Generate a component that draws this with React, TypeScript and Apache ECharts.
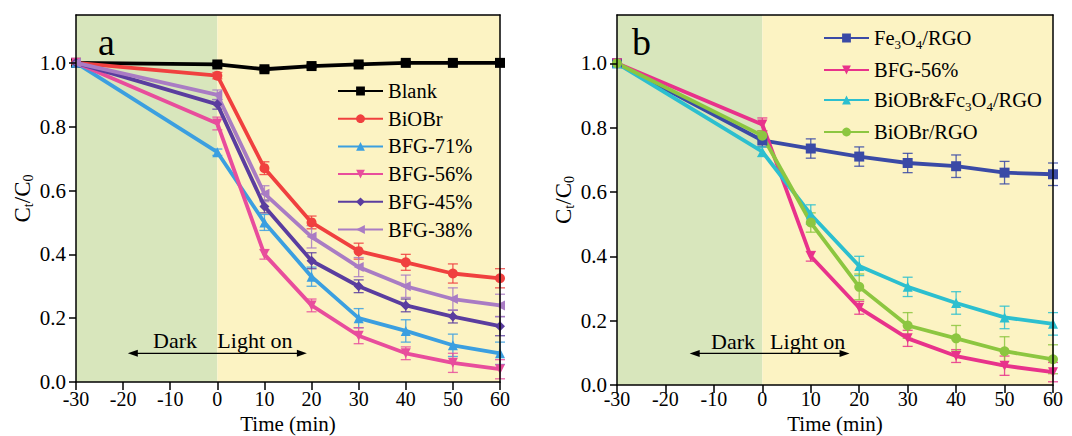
import React, { useEffect, useRef } from "react";
import * as echarts from "echarts";

// ---------- data ----------
const TIME = [-30, 0, 10, 20, 30, 40, 50, 60];
const Y_TICKS = [0, 0.2, 0.4, 0.6, 0.8, 1.0];
const X_TICKS = [-30, -20, -10, 0, 10, 20, 30, 40, 50, 60];

// panel a
const BLANK = [1.0, 0.995, 0.98, 0.99, 0.995, 1.0, 1.0, 1.0];
const BLANK_ERR = [0, 0.006, 0.008, 0.006, 0.006, 0.006, 0.006, 0.006];
const BIOBR = [1.0, 0.96, 0.67, 0.5, 0.41, 0.375, 0.34, 0.325];
const BIOBR_ERR = [0, 0.01, 0.02, 0.02, 0.025, 0.025, 0.03, 0.03];
const BFG71 = [1.0, 0.72, 0.5, 0.33, 0.2, 0.16, 0.115, 0.09];
const BFG71_ERR = [0, 0.01, 0.025, 0.03, 0.03, 0.035, 0.035, 0.035];
const BFG56 = [1.0, 0.81, 0.4, 0.24, 0.145, 0.09, 0.06, 0.04];
const BFG56_ERR = [0, 0.02, 0.015, 0.02, 0.025, 0.02, 0.03, 0.03];
const BFG45 = [1.0, 0.87, 0.55, 0.38, 0.3, 0.24, 0.205, 0.175];
const BFG45_ERR = [0, 0.015, 0.02, 0.025, 0.02, 0.02, 0.02, 0.03];
const BFG38 = [1.0, 0.9, 0.59, 0.455, 0.36, 0.3, 0.26, 0.24];
const BFG38_ERR = [0, 0.015, 0.025, 0.035, 0.03, 0.035, 0.035, 0.035];

// panel b
const FE3O4_RGO = [1.0, 0.76, 0.735, 0.71, 0.69, 0.68, 0.66, 0.655];
const FE3O4_RGO_ERR = [0, 0.02, 0.03, 0.03, 0.03, 0.035, 0.035, 0.035];
const BFG56_B = [1.0, 0.81, 0.4, 0.24, 0.145, 0.09, 0.06, 0.04];
const BFG56_B_ERR = [0, 0.02, 0.015, 0.02, 0.025, 0.02, 0.03, 0.03];
const BIOBR_FE = [1.0, 0.725, 0.53, 0.37, 0.305, 0.255, 0.21, 0.19];
const BIOBR_FE_ERR = [0, 0.015, 0.03, 0.03, 0.03, 0.035, 0.035, 0.035];
const BIOBR_RGO = [1.0, 0.775, 0.505, 0.305, 0.185, 0.145, 0.105, 0.08];
const BIOBR_RGO_ERR = [0, 0.015, 0.03, 0.04, 0.04, 0.04, 0.045, 0.045];

// shaded regions: [start, end] (dark, light)
const BANDS = [
  [-30, 0],
  [0, 60],
];
const BAND_COLORS = ["#d8e6bc", "#fcf3c3"];

const FONT = "'Liberation Serif', 'Times New Roman', 'DejaVu Serif', serif";

type Def = {
  name: string;
  values: number[];
  errs: number[];
  color: string;
  symbol: string;
  rotate?: number;
};

const PANEL_A: Def[] = [
  { name: "Blank", values: BLANK, errs: BLANK_ERR, color: "#000000", symbol: "rect" },
  { name: "BiOBr", values: BIOBR, errs: BIOBR_ERR, color: "#f0403f", symbol: "circle" },
  { name: "BFG-71%", values: BFG71, errs: BFG71_ERR, color: "#3b9fe0", symbol: "triangle" },
  { name: "BFG-56%", values: BFG56, errs: BFG56_ERR, color: "#e84d9c", symbol: "triangle", rotate: 180 },
  { name: "BFG-45%", values: BFG45, errs: BFG45_ERR, color: "#5a3d9f", symbol: "diamond" },
  { name: "BFG-38%", values: BFG38, errs: BFG38_ERR, color: "#a97cc4", symbol: "triangle", rotate: 90 },
];

const PANEL_B: Def[] = [
  { name: "Fe3O4/RGO", values: FE3O4_RGO, errs: FE3O4_RGO_ERR, color: "#3a4aa6", symbol: "rect" },
  { name: "BFG-56% ", values: BFG56_B, errs: BFG56_B_ERR, color: "#e8328b", symbol: "triangle", rotate: 180 },
  { name: "BiOBr&Fc3O4/RGO", values: BIOBR_FE, errs: BIOBR_FE_ERR, color: "#2cbfcf", symbol: "triangle" },
  { name: "BiOBr/RGO", values: BIOBR_RGO, errs: BIOBR_RGO_ERR, color: "#8cc640", symbol: "circle" },
];

const LEGEND_B_LABELS: Record<string, string> = {
  "Fe3O4/RGO": "Fe{sub|3}O{sub|4}/RGO",
  "BFG-56% ": "BFG-56%",
  "BiOBr&Fc3O4/RGO": "BiOBr&Fc{sub|3}O{sub|4}/RGO",
  "BiOBr/RGO": "BiOBr/RGO",
};

const RICH = {
  sub: { fontSize: 13, fontFamily: FONT, color: "#000", verticalAlign: "bottom", lineHeight: 13, padding: [0, 0, -2, 0] },
};

function buildPanel(defs: Def[], idx: number, annot: any) {
  const series: any[] = [];
  series.push({
    type: "custom",
    name: "bands" + idx,
    xAxisIndex: idx,
    yAxisIndex: idx,
    z: 0,
    silent: true,
    data: BANDS,
    renderItem: (params: any, api: any) => {
      const x0 = api.value(0);
      const x1 = api.value(1);
      const p0 = api.coord([x0, 1.15]);
      const p1 = api.coord([x1, 0]);
      return {
        type: "rect",
        shape: { x: p0[0], y: p0[1], width: p1[0] - p0[0], height: p1[1] - p0[1] },
        style: { fill: BAND_COLORS[params.dataIndex] },
      };
    },
  });
  defs.forEach((d) => {
    series.push({
      type: "custom",
      name: "err-" + d.name + idx,
      xAxisIndex: idx,
      yAxisIndex: idx,
      z: 2,
      silent: true,
      data: TIME.map((t, i) => [t, d.values[i], d.errs[i]]),
      renderItem: (params: any, api: any) => {
        const x = api.value(0);
        const y = api.value(1);
        const e = api.value(2);
        if (!e) return null;
        const top = api.coord([x, y + e]);
        const bot = api.coord([x, y - e]);
        const w = 5;
        const st = { stroke: d.color, lineWidth: 1.3, opacity: 0.85 };
        return {
          type: "group",
          children: [
            { type: "line", shape: { x1: top[0], y1: top[1], x2: bot[0], y2: bot[1] }, style: st },
            { type: "line", shape: { x1: top[0] - w, y1: top[1], x2: top[0] + w, y2: top[1] }, style: st },
            { type: "line", shape: { x1: bot[0] - w, y1: bot[1], x2: bot[0] + w, y2: bot[1] }, style: st },
          ],
        };
      },
    });
  });
  defs.forEach((d) => {
    series.push({
      type: "line",
      name: d.name,
      xAxisIndex: idx,
      yAxisIndex: idx,
      z: 3,
      data: TIME.map((t, i) => [t, d.values[i]]),
      symbol: d.symbol,
      symbolRotate: d.rotate || 0,
      symbolSize: 10,
      showAllSymbol: true,
      color: d.color,
      itemStyle: { color: d.color },
      lineStyle: { color: d.color, width: 3.8 },
    });
  });
  series.push({
    type: "custom",
    name: "annot" + idx,
    xAxisIndex: idx,
    yAxisIndex: idx,
    z: 4,
    silent: true,
    data: [[0, 0]],
    renderItem: (params: any, api: any) => {
      const dk = api.coord(annot.dark);
      const lt = api.coord(annot.light);
      const a0 = api.coord([annot.arrow[0], annot.arrow[2]]);
      const a1 = api.coord([annot.arrow[1], annot.arrow[2]]);
      const hl = 10;
      const hw = 3.5;
      return {
        type: "group",
        children: [
          {
            type: "text",
            x: dk[0],
            y: dk[1],
            style: { text: "Dark", fill: "#000", fontSize: 22, fontFamily: FONT, align: "right", verticalAlign: "middle" },
          },
          {
            type: "text",
            x: lt[0],
            y: lt[1],
            style: { text: "Light on", fill: "#000", fontSize: 22, fontFamily: FONT, align: "left", verticalAlign: "middle" },
          },
          {
            type: "line",
            shape: { x1: a0[0] + 4, y1: a0[1], x2: a1[0] - 4, y2: a1[1] },
            style: { stroke: "#000", lineWidth: 1.3 },
          },
          {
            type: "polygon",
            shape: { points: [[a0[0], a0[1]], [a0[0] + hl, a0[1] - hw], [a0[0] + hl, a0[1] + hw]] },
            style: { fill: "#000" },
          },
          {
            type: "polygon",
            shape: { points: [[a1[0], a1[1]], [a1[0] - hl, a1[1] - hw], [a1[0] - hl, a1[1] + hw]] },
            style: { fill: "#000" },
          },
        ],
      };
    },
  });
  return series;
}

const axisLineStyle = { color: "#000", width: 1.5 };

function xAxes(idx: number, labelMargin: number, nameGap: number) {
  return {
    type: "value",
    gridIndex: idx,
    min: -30,
    max: 60,
    interval: 10,
    z: 5,
    axisLine: { show: true, onZero: false, lineStyle: axisLineStyle },
    axisTick: { show: true, length: 8, lineStyle: axisLineStyle, customValues: X_TICKS },
    axisLabel: { color: "#000", fontSize: 20, fontFamily: FONT, margin: labelMargin, customValues: X_TICKS },
    splitLine: { show: false },
    name: "Time (min)",
    nameLocation: "middle",
    nameGap,
    nameMoveOverlap: false,
    nameTextStyle: { color: "#000", fontSize: 21, fontFamily: FONT },
  };
}
function xTop(idx: number) {
  return {
    type: "value",
    gridIndex: idx,
    position: "top",
    min: -30,
    max: 60,
    z: 5,
    axisLine: { show: true, onZero: false, lineStyle: axisLineStyle },
    axisTick: { show: false },
    axisLabel: { show: false },
    splitLine: { show: false },
  };
}
function yAxes(idx: number) {
  return {
    type: "value",
    gridIndex: idx,
    min: 0,
    max: 1.15,
    interval: 0.2,
    z: 5,
    axisLine: { show: true, onZero: false, lineStyle: axisLineStyle },
    axisTick: { show: true, length: 7, lineStyle: axisLineStyle, customValues: Y_TICKS },
    axisLabel: {
      color: "#000",
      fontSize: 21,
      fontFamily: FONT,
      margin: 10,
      customValues: Y_TICKS,
      formatter: (v: number) => v.toFixed(1),
    },
    splitLine: { show: false },
    name: "C{sub|t}/C{sub|0}",
    nameLocation: "middle",
    nameGap: 38,
    nameRotate: 90,
    nameTextStyle: { color: "#000", fontSize: 23, fontFamily: FONT, rich: { sub: { ...RICH.sub, fontSize: 14 } } },
  };
}
function yRight(idx: number) {
  return {
    type: "value",
    gridIndex: idx,
    position: "right",
    min: 0,
    max: 1.15,
    z: 5,
    axisLine: { show: true, onZero: false, lineStyle: axisLineStyle },
    axisTick: { show: false },
    axisLabel: { show: false },
    splitLine: { show: false },
  };
}

export default function App() {
  const ref = useRef<HTMLDivElement>(null);
  useEffect(() => {
    if (!ref.current) return;
    const chart = echarts.init(ref.current, null, { renderer: "svg" });
    const series = [
      ...buildPanel(PANEL_A, 0, { dark: [-4.3, 0.13], light: [0, 0.13], arrow: [-19, 19, 0.09] }),
      ...buildPanel(PANEL_B, 1, { dark: [-1.5, 0.136], light: [1.6, 0.136], arrow: [-15, 18, 0.098] }),
    ];
    chart.setOption({
      animation: false,
      backgroundColor: "#ffffff",
      grid: [
        { left: 76, top: 15, width: 424, height: 367, outerBoundsMode: "none", containLabel: false },
        { left: 617, top: 15, width: 436, height: 370, outerBoundsMode: "none", containLabel: false },
      ],
      xAxis: [xAxes(0, 7, 31), xAxes(1, 4, 28), xTop(0), xTop(1)],
      yAxis: [yAxes(0), yAxes(1), yRight(0), yRight(1)],
      title: [
        { text: "a", left: 93, top: 18, textStyle: { fontSize: 38, fontWeight: "normal", fontFamily: FONT, color: "#000" } },
        { text: "b", left: 627, top: 18, textStyle: { fontSize: 38, fontWeight: "normal", fontFamily: FONT, color: "#000" } },
      ],
      legend: [
        {
          data: PANEL_A.map((d) => d.name),
          orient: "vertical",
          left: 337,
          top: 80,
          itemWidth: 45,
          itemHeight: 11,
          itemGap: 5.7,
          padding: 0,
          textStyle: { color: "#000", fontSize: 20.5, fontFamily: FONT, lineHeight: 22 },
        },
        {
          data: PANEL_B.map((d) => d.name),
          orient: "vertical",
          left: 823,
          top: 27,
          itemWidth: 45,
          itemHeight: 11,
          itemGap: 8,
          padding: 0,
          formatter: (n: string) => LEGEND_B_LABELS[n] || n,
          textStyle: { color: "#000", fontSize: 20.5, fontFamily: FONT, lineHeight: 22, rich: RICH },
        },
      ],
      series,
    });
    return () => chart.dispose();
  }, []);
  return <div ref={ref} style={{ position: "absolute", left: 0, top: 0, width: 1072, height: 436 }} />;
}
